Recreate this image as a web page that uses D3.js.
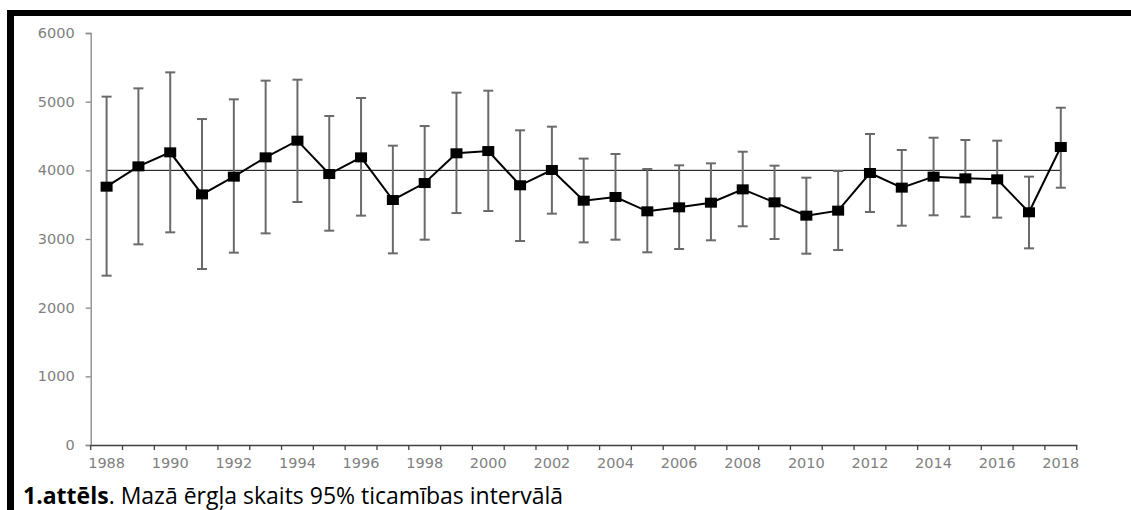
<!DOCTYPE html>
<html>
<head>
<meta charset="utf-8">
<script src="https://cdn.jsdelivr.net/npm/d3@7"></script>
<style>
  body { margin: 0; background: #fff; }
  svg { display: block; }
</style>
</head>
<body>
<div id="chart"></div>
<script>
var years = d3.range(1988, 2019);
var counts = [3762, 4058, 4262, 3650, 3908, 4189, 4432, 3946, 4189, 3568,
              3815, 4248, 4281, 3782, 4005, 3558, 3612, 3403, 3461, 3529,
              3723, 3534, 3340, 3413, 3961, 3748, 3908, 3883, 3869, 3389, 4340];
var upper = [5073, 5194, 5427, 4747, 5034, 5306, 5320, 4791, 5053, 4359,
             4645, 5131, 5160, 4583, 4636, 4171, 4238, 4019, 4073, 4102,
             4271, 4068, 3893, 3990, 4529, 4296, 4475, 4442, 4432, 3908, 4912];
var lower = [2466, 2922, 3097, 2563, 2801, 3082, 3539, 3121, 3340, 2791,
             2990, 3378, 3408, 2971, 3369, 2951, 2990, 2806, 2854, 2981,
             3185, 3000, 2786, 2840, 3393, 3194, 3345, 3325, 3311, 2864, 3747];
var yTicks = [0, 1000, 2000, 3000, 4000, 5000, 6000];
var refValue = 4000;
var caption = "1.attēls";
var captionRest = ". Mazā ērgļa skaits 95% ticamības intervālā";

var width = 1131, height = 510;
var margin = {top: 33, bottom: 65, left: 90.7, right: 54.3};

var data = years.map(function(y, i){
  return {year: y, value: counts[i], hi: upper[i], lo: lower[i]};
});

var svg = d3.select("#chart").append("svg")
  .attr("width", width).attr("height", height);

// frame bars
svg.append("rect").attr("x", 7).attr("y", 10).attr("width", width - 7).attr("height", 6).attr("fill", "#000");
svg.append("rect").attr("x", 7).attr("y", 10).attr("width", 7).attr("height", height - 10).attr("fill", "#000");

var x = d3.scaleBand()
  .domain(years)
  .range([margin.left, width - margin.right]);

var y = d3.scaleLinear()
  .domain([0, 6000])
  .range([height - margin.bottom, margin.top]);

var cx = function(d){ return x(d.year) + x.bandwidth() / 2; };

// y axis
var yAxis = svg.append("g")
  .attr("transform", "translate(" + margin.left + ",0)")
  .call(d3.axisLeft(y).tickValues(yTicks).tickSize(5).tickPadding(11).tickFormat(d3.format("d")));
yAxis.select(".domain").attr("stroke", "#868686").attr("stroke-width", 1.3);
yAxis.selectAll(".tick line").attr("stroke", "#868686").attr("stroke-width", 1.3);
yAxis.selectAll("text").attr("fill", "#7f7f7f")
  .style("font", "14.5px 'DejaVu Sans'");

// x axis
var xAxis = svg.append("g")
  .attr("transform", "translate(0," + (height - margin.bottom) + ")")
  .call(d3.axisBottom(x).tickSize(0).tickPadding(13)
    .tickFormat(function(d){ return (d - 1988) % 2 === 0 ? d : ""; }));
xAxis.select(".domain").attr("stroke", "#404040").attr("stroke-width", 1.3);
xAxis.selectAll("text").attr("fill", "#7f7f7f")
  .style("font", "14.5px 'DejaVu Sans'");
// ticks at band boundaries
xAxis.selectAll(".bound")
  .data(years.concat([2019]))
  .enter().append("line")
  .attr("class", "bound")
  .attr("x1", function(d){ return d === 2019 ? x.range()[1] : x(d); })
  .attr("x2", function(d){ return d === 2019 ? x.range()[1] : x(d); })
  .attr("y1", 0).attr("y2", 5)
  .attr("stroke", "#404040").attr("stroke-width", 1.3);

// reference line
svg.append("line")
  .attr("x1", cx(data[0])).attr("x2", cx(data[data.length - 1]))
  .attr("y1", y(refValue)).attr("y2", y(refValue))
  .attr("stroke", "#000").attr("stroke-width", 1);

// error bars
var err = svg.append("g").attr("stroke", "#6a6a6a").attr("stroke-width", 2);
err.selectAll(".v").data(data).enter().append("line")
  .attr("x1", cx).attr("x2", cx)
  .attr("y1", function(d){ return y(d.hi); })
  .attr("y2", function(d){ return y(d.lo); });
err.selectAll(".capHi").data(data).enter().append("line")
  .attr("x1", function(d){ return cx(d) - 5; }).attr("x2", function(d){ return cx(d) + 5; })
  .attr("y1", function(d){ return y(d.hi); }).attr("y2", function(d){ return y(d.hi); });
err.selectAll(".capLo").data(data).enter().append("line")
  .attr("x1", function(d){ return cx(d) - 5; }).attr("x2", function(d){ return cx(d) + 5; })
  .attr("y1", function(d){ return y(d.lo); }).attr("y2", function(d){ return y(d.lo); });

// line
var line = d3.line().x(cx).y(function(d){ return y(d.value); });
svg.append("path").datum(data)
  .attr("d", line)
  .attr("fill", "none").attr("stroke", "#000").attr("stroke-width", 2);

// markers
svg.selectAll(".mark").data(data).enter().append("rect")
  .attr("x", function(d){ return cx(d) - 6; })
  .attr("y", function(d){ return y(d.value) - 5; })
  .attr("width", 12).attr("height", 10)
  .attr("fill", "#000");

// caption
var cap = svg.append("text")
  .attr("x", 23).attr("y", 504)
  .style("font", "23px 'Open Sans'").attr("fill", "#000");
cap.append("tspan").attr("font-weight", "bold").text(caption);
cap.append("tspan").text(captionRest);
</script>
</body>
</html>
